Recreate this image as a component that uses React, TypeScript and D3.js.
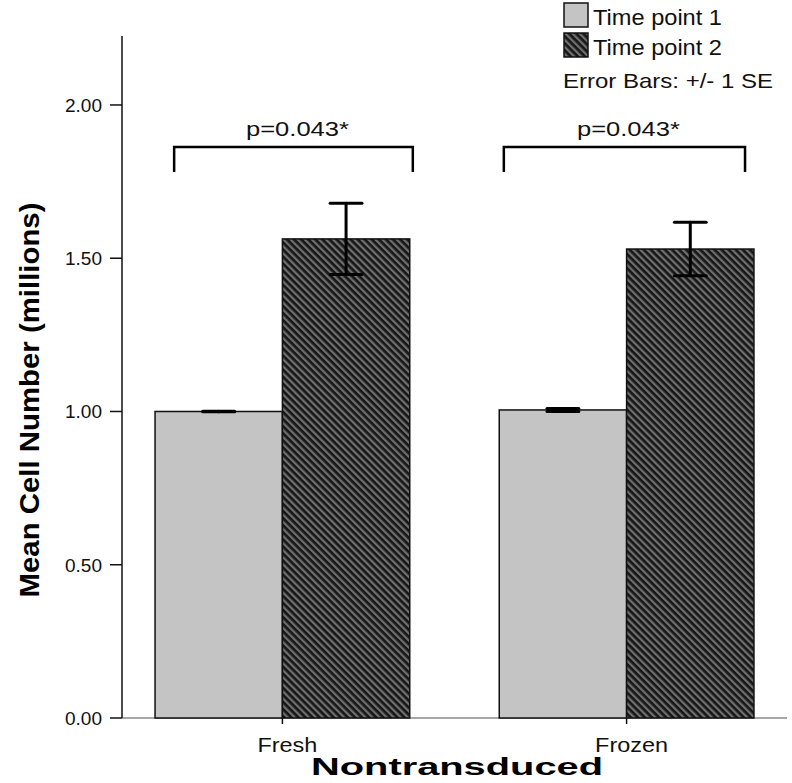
import React from "react";
import * as d3 from "d3";

const categories = ["Fresh", "Frozen"];
const seriesNames = ["Time point 1", "Time point 2"];
const tp1Means = [1.0, 1.005];
const tp1SE = [0.001, 0.005];
const tp2Means = [1.563, 1.53];
const tp2SE = [0.116, 0.087];
const yTicks = [0, 0.5, 1.0, 1.5, 2.0];
const pLabels = ["p=0.043*", "p=0.043*"];
const bracketFrac = [
  [0.075, 1.012],
  [0.018, 0.965],
];
const bracketTop = 1.863;
const bracketBottom = 1.781;
const pTextY = 1.899;

const W = 792;
const H = 783;
const FONT = "'Liberation Sans', Arial, sans-serif";

export default function App() {
  const x = d3
    .scaleBand<string>()
    .domain(categories)
    .range([122, 787])
    .paddingInner(0.26)
    .paddingOuter(0.096);
  const xs = d3
    .scaleBand<string>()
    .domain(seriesNames)
    .range([0, x.bandwidth()])
    .padding(0);
  const y = d3.scaleLinear().domain([0, 2.225]).range([718, 36]);

  const bars: { cat: string; s: string; mean: number; se: number }[] = [];
  categories.forEach((c, i) => {
    bars.push({ cat: c, s: seriesNames[0], mean: tp1Means[i], se: tp1SE[i] });
    bars.push({ cat: c, s: seriesNames[1], mean: tp2Means[i], se: tp2SE[i] });
  });

  const capW = xs.bandwidth() * 0.25;
  const catWidths: Record<string, number> = { Fresh: 60, Frozen: 73 };

  return (
    <svg width={W} height={H} style={{ position: "absolute", left: 0, top: 0, display: "block" }}>
      <defs>
        <pattern
          id="hatch"
          patternUnits="userSpaceOnUse"
          width={5}
          height={5}
          patternTransform="rotate(-45)"
        >
          <rect x={0} y={0} width={5} height={5} fill="#161616" />
          <rect x={0} y={0} width={2.3} height={5} fill="#6f6f6f" />
        </pattern>
      </defs>
      <rect x={0} y={0} width={W} height={H} fill="#fff" />

      {/* x axis line */}
      <line x1={122} x2={787} y1={y(0)} y2={y(0)} stroke="#8a8a8a" strokeWidth={1.5} />

      {/* bars */}
      {bars.map((b, i) => {
        const bx = (x(b.cat) as number) + (xs(b.s) as number);
        const isTp1 = b.s === seriesNames[0];
        return (
          <rect
            key={"b" + i}
            x={bx}
            y={y(b.mean)}
            width={xs.bandwidth()}
            height={y(0) - y(b.mean)}
            fill={isTp1 ? "#c4c4c4" : "url(#hatch)"}
            stroke="#111"
            strokeWidth={1.5}
          />
        );
      })}

      {/* error bars */}
      {bars.map((b, i) => {
        const cx = (x(b.cat) as number) + (xs(b.s) as number) + xs.bandwidth() / 2;
        const yt = y(b.mean + b.se);
        const yb = y(b.mean - b.se);
        return (
          <g key={"e" + i} stroke="#000" strokeWidth={3} strokeLinecap="round">
            <line x1={cx} x2={cx} y1={yt} y2={yb} />
            <line x1={cx - capW / 2} x2={cx + capW / 2} y1={yt} y2={yt} />
            <line x1={cx - capW / 2} x2={cx + capW / 2} y1={yb} y2={yb} />
          </g>
        );
      })}

      {/* y axis */}
      <line x1={122} x2={122} y1={36} y2={y(0)} stroke="#111" strokeWidth={1.5} />
      {yTicks.map((t) => (
        <g key={"t" + t}>
          <line x1={110} x2={122} y1={y(t)} y2={y(t)} stroke="#111" strokeWidth={1.5} />
          <text
            x={102}
            y={y(t) + 7}
            textAnchor="end"
            fontFamily={FONT}
            fontSize={19}
            fill="#111"
          >
            {t.toFixed(2)}
          </text>
        </g>
      ))}

      {/* x ticks & labels */}
      {categories.map((c) => {
        const cx = (x(c) as number) + x.bandwidth() / 2;
        return (
          <g key={"x" + c}>
            <line x1={cx} x2={cx} y1={y(0)} y2={y(0) + 6} stroke="#111" strokeWidth={1.5} />
            <text
              x={cx + 5}
              y={752}
              textAnchor="middle"
              fontFamily={FONT}
              fontSize={21}
              textLength={catWidths[c]}
              lengthAdjust="spacingAndGlyphs"
              fill="#111"
            >
              {c}
            </text>
          </g>
        );
      })}

      {/* brackets */}
      {categories.map((c, i) => {
        const x0 = (x(c) as number) + x.bandwidth() * bracketFrac[i][0];
        const x1 = (x(c) as number) + x.bandwidth() * bracketFrac[i][1];
        return (
          <g key={"br" + c}>
            <path
              d={`M${x0},${y(bracketBottom)}V${y(bracketTop)}H${x1}V${y(bracketBottom)}`}
              fill="none"
              stroke="#000"
              strokeWidth={2.5}
            />
            <text
              x={(x0 + x1) / 2 + 4}
              y={y(pTextY)}
              textAnchor="middle"
              fontFamily={FONT}
              fontSize={21}
              textLength={103}
              lengthAdjust="spacingAndGlyphs"
              fill="#111"
            >
              {pLabels[i]}
            </text>
          </g>
        );
      })}

      {/* axis titles */}
      <text
        x={457}
        y={775}
        textAnchor="middle"
        fontFamily={FONT}
        fontWeight="bold"
        fontSize={24}
        textLength={292}
        lengthAdjust="spacingAndGlyphs"
        fill="#000"
      >
        Nontransduced
      </text>
      <text
        transform={`translate(39,400) rotate(-90)`}
        textAnchor="middle"
        fontFamily={FONT}
        fontWeight="bold"
        fontSize={27}
        textLength={395}
        lengthAdjust="spacingAndGlyphs"
        fill="#000"
      >
        Mean Cell Number (millions)
      </text>

      {/* legend */}
      <rect x={564} y={3} width={24} height={24} fill="#c4c4c4" stroke="#111" strokeWidth={1.5} />
      <rect x={564} y={33} width={24} height={24} fill="url(#hatch)" stroke="#111" strokeWidth={1.5} />
      <text
        x={593}
        y={25}
        fontFamily={FONT}
        fontSize={22}
        textLength={129}
        lengthAdjust="spacingAndGlyphs"
        fill="#111"
      >
        {seriesNames[0]}
      </text>
      <text
        x={593}
        y={55}
        fontFamily={FONT}
        fontSize={22}
        textLength={129}
        lengthAdjust="spacingAndGlyphs"
        fill="#111"
      >
        {seriesNames[1]}
      </text>
      <text
        x={563}
        y={88}
        fontFamily={FONT}
        fontSize={21}
        textLength={210}
        lengthAdjust="spacingAndGlyphs"
        fill="#111"
      >
        Error Bars: +/- 1 SE
      </text>
    </svg>
  );
}
